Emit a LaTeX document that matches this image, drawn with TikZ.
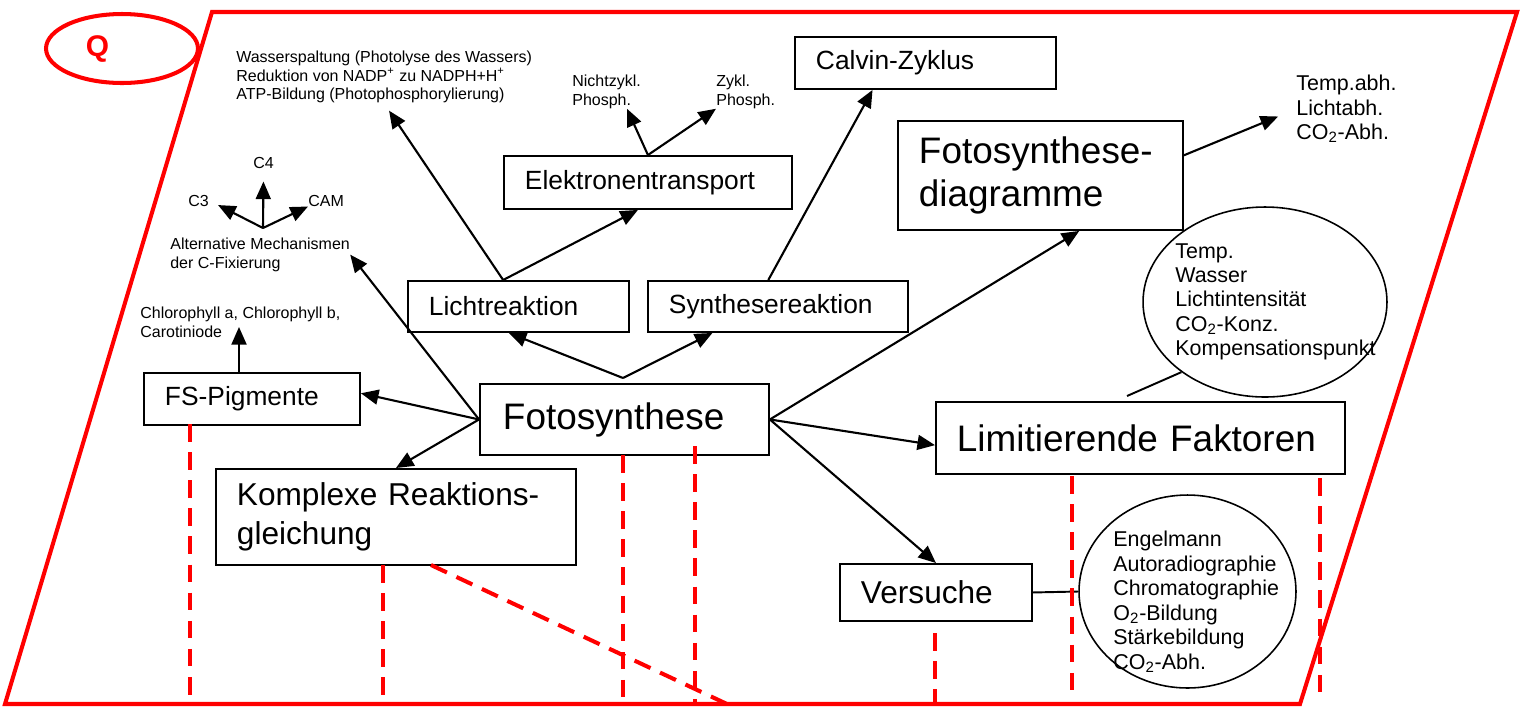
\documentclass[tikz,border=0pt]{standalone}
\usepackage{fontspec}
\setmainfont{Liberation Sans}
\usetikzlibrary{arrows.meta,shapes.geometric}

\begin{document}
\begin{tikzpicture}[x=0.02cm, y=-0.02cm,
  frame/.style={draw=red, line width=2.3pt},
  cut/.style={red, line width=2.3pt, dash pattern=on 10pt off 6pt},
  box/.style={draw, line width=1.1pt, anchor=north west, align=left,
    inner xsep=0.42cm, inner ysep=0pt, font=\fontsize{15}{18}\selectfont},
  bigbox/.style={box, font=\fontsize{21}{24}\selectfont},
  midbox/.style={box, font=\fontsize{18}{22}\selectfont},
  note/.style={anchor=north west, align=left, inner sep=0pt,
    font=\fontsize{9.1}{10.6}\selectfont},
  list/.style={note, font=\fontsize{12.2}{13.9}\selectfont},
  blob/.style={draw, ellipse, line width=0.9pt, inner sep=0pt},
  arr/.style={-{Triangle[length=10pt,width=8.5pt]}, line width=1.2pt},
  link/.style={line width=1.1pt},
]

\useasboundingbox (0,0) rectangle (1527,708);
\def\ybot{704}

% Frame and mark
\draw[frame] (212,12) -- (1517,12) -- (1300,\ybot) -- (5,\ybot) -- cycle;
\draw[frame] (122,48.5) ellipse [x radius=1.52cm, y radius=0.69cm];
\node[text=red, font=\fontsize{17}{17}\selectfont\bfseries] (qlabel) at (97.5,49) {Q};

% Boxes
\node[bigbox, inner xsep=0.46cm, text width=4.86cm, minimum height=1.42cm] (foto) at (479,383) {Fotosynthese};
\node[box, text width=3.58cm, minimum height=1.02cm] (licht) at (407,280) {Lichtreaktion};
\node[box, text width=4.36cm, minimum height=1.02cm] (synth) at (647,280) {Synthesereaktion};
\node[box, text width=4.92cm, minimum height=1.06cm] (elektron) at (503,155) {Elektronentransport};
\node[box, text width=4.38cm, minimum height=1.04cm] (calvin) at (794,36) {Calvin-Zyklus};
\node[bigbox, text width=4.86cm, minimum height=2.18cm] (diagr) at (897,120) {Fotosynthese-\\diagramme};
\node[box, text width=3.48cm, minimum height=1.04cm] (fspig) at (143,372) {FS-Pigmente};
\node[midbox, text width=6.36cm, minimum height=1.92cm] (komplex) at (215,468) {Komplexe Reaktions-\\gleichung};
\node[bigbox, text width=7.34cm, minimum height=1.44cm] (faktor) at (935,401) {Limitierende Faktoren};
\node[midbox, text width=3.0cm, minimum height=1.14cm] (versuche) at (839,563) {Versuche};

% Ellipses with lists
\node[blob, minimum width=4.88cm, minimum height=3.8cm] (faktell) at (1265,302) {};
\node[blob, minimum width=4.34cm, minimum height=3.86cm] (versell) at (1187.5,591.5) {};
\node[list] (faktlist) at (1175,243) {Temp.\\Wasser\\Lichtintensität\\CO\textsubscript{2}-Konz.\\Kompensationspunkt};
\node[list] (verslist) at (1113,531) {Engelmann\\Autoradiographie\\Chromatographie\\O\textsubscript{2}-Bildung\\Stärkebildung\\CO\textsubscript{2}-Abh.};
\node[list] (abh) at (1296,75) {Temp.abh.\\Lichtabh.\\CO\textsubscript{2}-Abh.};

% Small notes
\node[note] (wasser) at (236,50.5) {Wasserspaltung (Photolyse des Wassers)\\Reduktion von NADP\textsuperscript{+} zu NADPH+H\textsuperscript{+}\\ATP-Bildung (Photophosphorylierung)};
\node[note] (nichtz) at (572,74.5) {Nichtzykl.\\Phosph.};
\node[note] (zykl) at (716,74.5) {Zykl.\\Phosph.};
\node[note] (altmech) at (170,237.5) {Alternative Mechanismen\\der C-Fixierung};
\node[note] (chloro) at (140,306.5) {Chlorophyll a, Chlorophyll b,\\Carotiniode};
\node[note, anchor=base west] (cfour) at (253,168) {C4};
\node[note, anchor=base west] (cthree) at (188,206) {C3};
\node[note, anchor=base west] (cam) at (308,206) {CAM};

% Arrows out of Fotosynthese
\coordinate (fotoapex) at (623,378);
\draw[arr] (fotoapex) -- (licht.250);
\draw[arr] (fotoapex) -- (synth.202);
\draw[arr] (foto.west) -- (fspig.3);
\draw[arr] (foto.west) -- (altmech.east);
\draw[arr] (foto.west) -- (komplex.north);
\draw[arr] (foto.east) -- (diagr.-55);
\draw[arr] (foto.east) -- (faktor.182);
\draw[arr] (foto.east) -- (versuche.north);

% Second level
\draw[arr] (licht.120) -- (elektron.250);
\draw[arr, shorten >=5pt] (licht.120) -- (wasser.south);
\draw[arr] (elektron.north) -- (nichtz.-40);
\draw[arr] (elektron.north) -- (zykl.south west);
\draw[arr] (synth.110) -- (calvin.207);
\draw[arr, shorten >=11pt] (diagr.8) -- (abh.west);

\coordinate (chlorotip) at (239,327);
\draw[arr] (chlorotip |- fspig.north) -- (chlorotip);

% C-Fixierung fork
\coordinate (cfork) at (263,228);
\draw[arr, shorten >=7.4pt] (cfork) -- (cfour.south);
\draw[arr, shorten >=5.7pt] (cfork) -- (cthree.east);
\draw[arr] (cfork) -- (cam.south west);

% Links to the ellipses
\draw[link] (versuche.east) -- (versell.west);
\coordinate (fakstub) at (1127,396);
\draw[link] (fakstub) -- (faktell.220);

% Red cut lines
\draw[cut] (190,424) -- (190,\ybot);
\draw[cut] (383,565) -- (383,\ybot);
\draw[cut] (431,565) -- (727,\ybot);
\draw[cut] (623,455) -- (623,\ybot);
\draw[cut] (695,446) -- (695,\ybot);
\draw[cut] (935,633) -- (935,\ybot);
\draw[cut] (1072,476) -- (1072,692);
\draw[cut] (1320,478) -- (1320,693);

\end{tikzpicture}
\end{document}
